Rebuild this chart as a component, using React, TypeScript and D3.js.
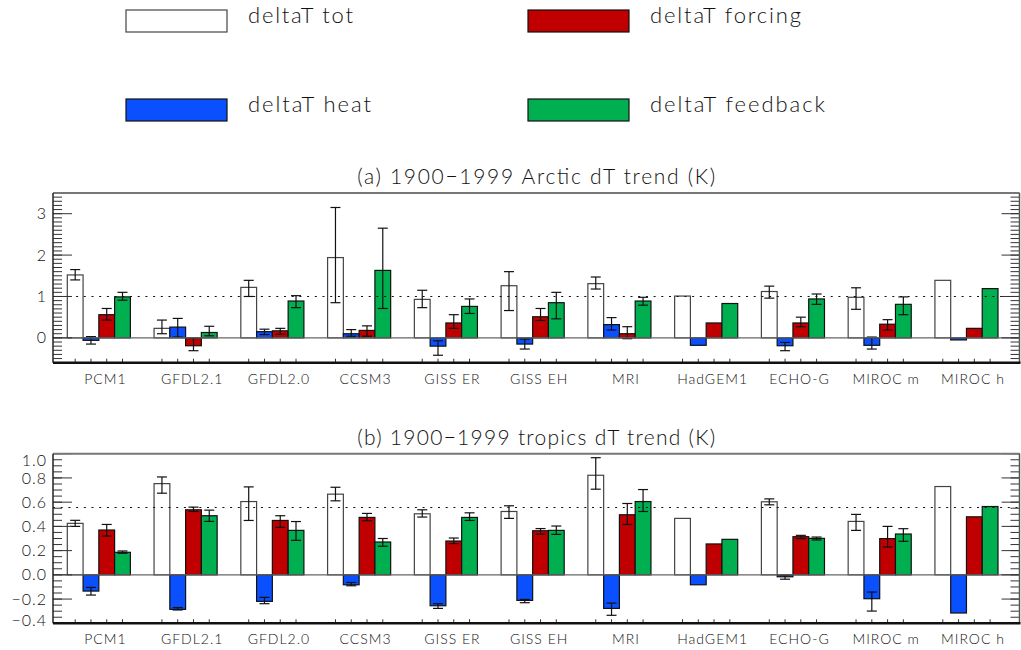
import * as d3 from "d3";

const models = ["PCM1", "GFDL2.1", "GFDL2.0", "CCSM3", "GISS ER", "GISS EH", "MRI", "HadGEM1", "ECHO-G", "MIROC m", "MIROC h"];
const seriesNames = ["deltaT tot", "deltaT heat", "deltaT forcing", "deltaT feedback"];
const seriesFill = ["#ffffff", "#0a50ff", "#c00000", "#00b050"];

// (a) Arctic, K
const arcticTot = [1.52, 0.23, 1.22, 1.94, 0.93, 1.26, 1.31, 1.01, 1.12, 0.98, 1.39];
const arcticHeat = [-0.06, 0.26, 0.15, 0.1, -0.2, -0.15, 0.32, -0.18, -0.19, -0.18, -0.05];
const arcticForcing = [0.56, -0.19, 0.17, 0.18, 0.36, 0.51, 0.1, 0.36, 0.36, 0.33, 0.23];
const arcticFeedback = [0.99, 0.13, 0.89, 1.63, 0.76, 0.85, 0.89, 0.83, 0.94, 0.81, 1.19];
const arcticTotErr = [[1.4, 1.65], [0.1, 0.43], [1.0, 1.39], [0.85, 3.15], [0.73, 1.15], [0.66, 1.6], [1.18, 1.47], null, [0.96, 1.25], [0.69, 1.21], null];
const arcticHeatErr = [[-0.15, 0.03], [0.02, 0.47], [0.08, 0.21], [0.04, 0.2], [-0.42, -0.07], [-0.27, -0.03], [0.19, 0.49], null, [-0.31, -0.11], [-0.27, 0.02], null];
const arcticForcingErr = [[0.43, 0.71], [-0.31, -0.01], [0.09, 0.23], [0.04, 0.29], [0.23, 0.56], [0.42, 0.71], [-0.02, 0.27], null, [0.27, 0.5], [0.19, 0.44], null];
const arcticFeedbackErr = [[0.91, 1.1], [0.05, 0.28], [0.73, 1.02], [0.71, 2.65], [0.59, 0.94], [0.46, 1.1], [0.79, 0.98], null, [0.81, 1.06], [0.56, 0.99], null];

// (b) tropics, K
const tropTot = [0.425, 0.753, 0.605, 0.666, 0.504, 0.523, 0.822, 0.466, 0.603, 0.441, 0.729];
const tropHeat = [-0.134, -0.285, -0.219, -0.082, -0.255, -0.211, -0.277, -0.082, -0.016, -0.197, -0.315];
const tropForcing = [0.37, 0.537, 0.449, 0.474, 0.279, 0.364, 0.496, 0.255, 0.315, 0.299, 0.479];
const tropFeedback = [0.186, 0.488, 0.367, 0.271, 0.474, 0.367, 0.605, 0.293, 0.301, 0.337, 0.564];
const tropTotErr = [[0.4, 0.45], [0.674, 0.808], [0.449, 0.726], [0.611, 0.723], [0.477, 0.537], [0.466, 0.57], [0.707, 0.967], null, [0.578, 0.627], [0.367, 0.499], null];
const tropHeatErr = [[-0.167, -0.104], [-0.29, -0.27], [-0.238, -0.186], [-0.09, -0.063], [-0.277, -0.238], [-0.23, -0.203], [-0.334, -0.233], null, [-0.036, -0.005], [-0.299, -0.142], null];
const tropForcingErr = [[0.32, 0.416], [0.523, 0.559], [0.392, 0.488], [0.447, 0.507], [0.258, 0.304], [0.336, 0.382], [0.416, 0.589], null, [0.299, 0.326], [0.23, 0.4], null];
const tropFeedbackErr = [[0.178, 0.197], [0.441, 0.534], [0.285, 0.44], [0.236, 0.3], [0.449, 0.512], [0.334, 0.403], [0.523, 0.704], null, [0.288, 0.312], [0.277, 0.381], null];

const arcticRef = 1.0;
const tropRef = 0.556;

// thin vector-like look of the original
const font = "Lato, 'Liberation Sans', Arial, sans-serif";
const fontWeight = 300;
const textColor = "#111";
const left = 53;
const right = 1019.5;

const x0 = d3.scaleBand().domain(models).range([67.3, 998]).paddingInner(0.273).paddingOuter(0);
const x1 = d3.scaleBand().domain(seriesNames).range([0, x0.bandwidth()]);

function Panel({ title, titleY, top, bottom, domain, majorCount, minorCount, fmt, values, errs, refValue }) {
  const y = d3.scaleLinear().domain(domain).range([bottom, top]);
  const major = y.ticks(majorCount);
  const minor = y.ticks(minorCount);
  const zero = y(0);
  return (
    <g>
      <text x={(left + right) / 2} y={titleY} textAnchor="middle" fontFamily={font} fontWeight={fontWeight}
        fontSize={21} fill={textColor} textLength={358} lengthAdjust="spacing">{title}</text>

      {/* bars */}
      {values.map((vals, s) =>
        vals.map((v, i) => {
          const bx = x0(models[i]) + x1(seriesNames[s]);
          return (
            <rect key={`b${s}-${i}`} x={bx} y={Math.min(y(v), zero)} width={x1.bandwidth()}
              height={Math.abs(y(v) - zero)} fill={seriesFill[s]}
              stroke={s === 0 ? "#444" : "#111"} strokeWidth={1.2} />
          );
        })
      )}

      {/* error bars */}
      {errs.map((es, s) =>
        es.map((e, i) => {
          if (!e) return null;
          const cx = x0(models[i]) + x1(seriesNames[s]) + x1.bandwidth() / 2;
          return (
            <g key={`e${s}-${i}`} stroke="#111" strokeWidth={1.2}>
              <line x1={cx} x2={cx} y1={y(e[0])} y2={y(e[1])} />
              <line x1={cx - 5} x2={cx + 5} y1={y(e[0])} y2={y(e[0])} />
              <line x1={cx - 5} x2={cx + 5} y1={y(e[1])} y2={y(e[1])} />
            </g>
          );
        })
      )}

      {/* zero line and reference line */}
      <line x1={left} x2={right} y1={zero} y2={zero} stroke="#666" strokeWidth={1.2} />
      <line x1={left} x2={right} y1={y(refValue)} y2={y(refValue)} stroke="#111" strokeWidth={1.2}
        strokeDasharray="2 5.7" />

      {/* y ticks, both sides */}
      {minor.map((t) => (
        <g key={`m${t}`} stroke="#333" strokeWidth={1}>
          <line x1={left} x2={left + 9} y1={y(t)} y2={y(t)} />
          <line x1={right - 9} x2={right} y1={y(t)} y2={y(t)} />
        </g>
      ))}
      {major.map((t) => (
        <g key={`M${t}`} stroke="#333" strokeWidth={1}>
          <line x1={left} x2={left + 19} y1={y(t)} y2={y(t)} />
          <line x1={right - 18} x2={right} y1={y(t)} y2={y(t)} />
        </g>
      ))}
      {major.map((t) => (
        <text key={`L${t}`} x={47} y={Math.max(top + 7, Math.min(bottom - 3, y(t)))} dy="0.35em"
          textAnchor="end" fontFamily={font} fontWeight={fontWeight} fontSize={16} letterSpacing={1}
          fill={textColor}>
          {fmt(t)}
        </text>
      ))}

      {/* x ticks at bar centres */}
      {models.map((m) =>
        seriesNames.map((s) => {
          const cx = x0(m) + x1(s) + x1.bandwidth() / 2;
          return <line key={`x${m}${s}`} x1={cx} x2={cx} y1={bottom} y2={bottom - 4} stroke="#333" strokeWidth={1} />;
        })
      )}
      {models.map((m) => (
        <text key={`c${m}`} x={x0(m) + x0.bandwidth() / 2 + 6.5} y={bottom + 21} textAnchor="middle"
          fontFamily={font} fontWeight={fontWeight} fontSize={14} letterSpacing={1} fill={textColor}>
          {m.replace(" ", "  ")}
        </text>
      ))}

      {/* frame */}
      <line x1={left} x2={right} y1={top} y2={top} stroke="#777" strokeWidth={2} />
      <line x1={left} x2={left} y1={top} y2={bottom} stroke="#222" strokeWidth={1.5} />
      <line x1={right} x2={right} y1={top} y2={bottom} stroke="#555" strokeWidth={1.5} />
      <line x1={left} x2={right + 1} y1={bottom} y2={bottom} stroke="#111" strokeWidth={2.5} />
    </g>
  );
}

function Legend() {
  const items = [
    { name: seriesNames[0], fill: seriesFill[0], x: 126, y: 10, w: 105 },
    { name: seriesNames[2], fill: seriesFill[2], x: 528, y: 10, w: 151 },
    { name: seriesNames[1], fill: seriesFill[1], x: 126, y: 99, w: 123 },
    { name: seriesNames[3], fill: seriesFill[3], x: 528, y: 99, w: 175 },
  ];
  return (
    <g>
      {items.map((it) => (
        <g key={it.name}>
          <rect x={it.x} y={it.y} width={101} height={22} fill={it.fill}
            stroke={it.fill === "#ffffff" ? "#444" : "#111"} strokeWidth={1.2} />
          <text x={it.x + 122} y={it.y + 13} fontFamily={font} fontWeight={fontWeight} fontSize={22}
            fill={textColor} textLength={it.w} lengthAdjust="spacing">{it.name}</text>
        </g>
      ))}
    </g>
  );
}

export default function App() {
  return (
    <svg width={1021} height={650} style={{ position: "absolute", left: 0, top: 0, background: "#fff" }}>
      <Legend />
      <Panel
        title="(a) 1900−1999 Arctic dT trend (K)"
        titleY={184}
        top={193}
        bottom={362.7}
        domain={[-0.6, 3.5]}
        majorCount={4}
        minorCount={40}
        fmt={(t) => d3.format("d")(t)}
        values={[arcticTot, arcticHeat, arcticForcing, arcticFeedback]}
        errs={[arcticTotErr, arcticHeatErr, arcticForcingErr, arcticFeedbackErr]}
        refValue={arcticRef}
      />
      <Panel
        title="(b) 1900−1999 tropics dT trend (K)"
        titleY={445}
        top={453.7}
        bottom={623.3}
        domain={[-0.4, 1.0]}
        majorCount={7}
        minorCount={28}
        fmt={(t) => d3.format(".1f")(t)}
        values={[tropTot, tropHeat, tropForcing, tropFeedback]}
        errs={[tropTotErr, tropHeatErr, tropForcingErr, tropFeedbackErr]}
        refValue={tropRef}
      />
    </svg>
  );
}
